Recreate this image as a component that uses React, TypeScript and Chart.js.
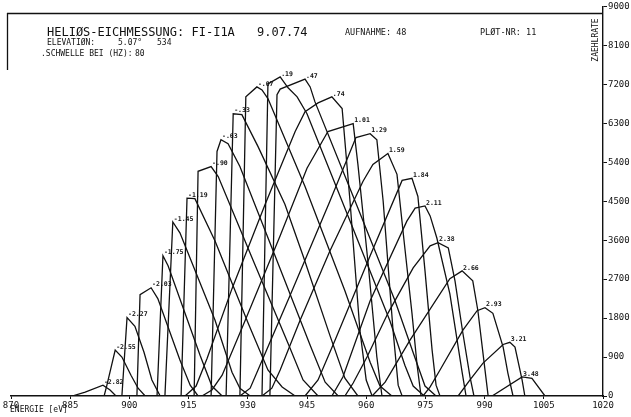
import React, { useEffect, useRef } from 'react';
import { Chart, registerables } from 'chart.js';

Chart.register(...registerables);

// Peak labels (elevation offsets) for each scan curve
const LABELS = ['-2.82', '-2.55', '-2.27', '-2.03', '-1.75', '-1.45', '-1.19', '-.90', '-.63', '-.33', '-.07', '.19', '.47', '.74', '1.01', '1.29', '1.59', '1.84', '2.11', '2.38', '2.66', '2.93', '3.21', '3.48'];

// Energies (eV) and counts of each curve
const E01 = [885.5, 888.8, 893.3, 895.1, 896.6];
const C01 = [0, 90, 250, 140, 0];
const E02 = [893.6, 894.3, 896.4, 898.1, 900.4, 902.2, 904.0];
const C02 = [0, 250, 1060, 900, 480, 180, 0];
const E03 = [898.1, 899.4, 901.4, 903.7, 905.7, 907.8];
const C03 = [0, 1810, 1610, 1010, 370, 0];
const E04 = [901.9, 902.7, 905.5, 907.2, 912.8, 915.4, 917.4];
const C04 = [0, 2340, 2500, 2250, 830, 250, 0];
const E05 = [907.0, 908.5, 909.8, 917.9, 920.9, 923.5];
const C05 = [0, 3240, 3010, 940, 230, 0];
const E06 = [909.0, 911.0, 912.8, 921.7, 926.0, 928.0, 930.6];
const C06 = [0, 4020, 3770, 1750, 550, 180, 0];
const E07 = [913.1, 914.6, 916.6, 921.7, 930.1, 935.1, 938.7, 942.0];
const C07 = [0, 4570, 4560, 3580, 1680, 600, 210, 0];
const E08 = [916.4, 917.4, 920.7, 922.5, 931.6, 940.4, 944.0, 947.8];
const C08 = [0, 5190, 5300, 5070, 3080, 1170, 370, 0];
const E09 = [920.7, 922.2, 923.2, 925.0, 928.0, 936.9, 945.8, 949.6, 952.9];
const C09 = [0, 5650, 5920, 5830, 5300, 3240, 1170, 320, 0];
const E10 = [924.5, 926.3, 928.5, 932.6, 939.4, 944.0, 950.8, 954.6, 957.9];
const C10 = [0, 6520, 6500, 5760, 4430, 3240, 1400, 410, 0];
const E11 = [928.0, 929.5, 932.3, 933.6, 935.1, 944.5, 954.6, 961.0, 963.5, 966.5];
const C11 = [0, 6910, 7140, 7070, 6870, 4840, 2430, 780, 230, 0];
const E12 = [933.6, 935.1, 938.2, 940.2, 942.5, 945.0, 955.9, 966.0, 969.8, 971.9, 974.7];
const C12 = [0, 7210, 7370, 7120, 6910, 6520, 4040, 1740, 710, 230, 0];
const E13 = [935.6, 937.4, 938.2, 944.5, 945.8, 947.0, 957.2, 967.3, 972.4, 974.9, 977.7];
const C13 = [0, 6960, 7090, 7320, 7140, 6800, 4500, 2200, 870, 230, 0];
const E14 = [914.1, 916.9, 919.7, 926.0, 934.4, 942.0, 944.5, 947.8, 951.3, 953.9, 955.9, 958.4, 960.0, 961.5];
const C14 = [0, 230, 870, 2480, 4430, 6110, 6570, 6770, 6910, 6640, 4500, 1520, 370, 0];
const E15 = [918.4, 920.9, 923.5, 929.3, 938.2, 945.0, 950.3, 956.7, 957.9, 960.5, 962.7, 964.0];
const C15 = [0, 140, 480, 1740, 3700, 5260, 6110, 6290, 5350, 3050, 900, 0];
const E16 = [928.0, 930.6, 933.1, 940.7, 950.8, 957.4, 961.0, 962.7, 964.3, 966.8, 968.1, 969.1];
const C16 = [0, 180, 710, 2320, 4500, 5970, 6060, 5920, 4500, 1520, 250, 0];
const E17 = [933.6, 936.1, 938.2, 943.2, 950.8, 959.2, 961.7, 965.5, 967.8, 969.6, 971.6, 972.9, 973.9];
const C17 = [0, 180, 600, 1740, 3350, 4960, 5350, 5600, 5120, 3580, 1910, 710, 0];
const E18 = [944.5, 947.8, 952.1, 961.0, 969.1, 971.6, 973.1, 974.9, 976.7, 977.7, 978.7];
const C18 = [0, 370, 1290, 3240, 4980, 5030, 4610, 2890, 1060, 250, 0];
const E19 = [951.3, 954.1, 961.0, 970.3, 972.4, 974.9, 976.2, 977.9, 981.2, 984.3, 985.3];
const C19 = [0, 440, 2200, 4040, 4340, 4390, 4160, 3650, 2360, 550, 0];
const E20 = [954.6, 956.7, 960.2, 965.5, 971.9, 976.2, 978.2, 980.8, 982.5, 984.5, 986.3, 987.3];
const C20 = [0, 300, 900, 1910, 2960, 3470, 3540, 3420, 2660, 1450, 440, 0];
const E21 = [961.5, 964.8, 971.1, 981.2, 984.3, 987.0, 988.3, 989.8, 990.9];
const C21 = [0, 320, 1290, 2710, 2890, 2660, 1970, 830, 0];
const E22 = [974.4, 976.2, 978.7, 984.5, 988.1, 990.1, 992.1, 994.7, 995.9, 997.2];
const C22 = [0, 210, 600, 1520, 1970, 2040, 1910, 1130, 530, 0];
const E23 = [983.3, 986.3, 989.6, 994.7, 996.4, 997.7, 999.5, 1000.2];
const C23 = [0, 370, 760, 1190, 1240, 1130, 370, 0];
const E24 = [991.9, 999.5, 1002.0, 1005.3];
const C24 = [0, 440, 410, 0];

const ENERGIES = [E01, E02, E03, E04, E05, E06, E07, E08, E09, E10, E11, E12, E13, E14, E15, E16, E17, E18, E19, E20, E21, E22, E23, E24];
const COUNTS = [C01, C02, C03, C04, C05, C06, C07, C08, C09, C10, C11, C12, C13, C14, C15, C16, C17, C18, C19, C20, C21, C22, C23, C24];

const X_TICKS = [870, 885, 900, 915, 930, 945, 960, 975, 990, 1005, 1020];
const Y_TICKS = [0, 900, 1800, 2700, 3600, 4500, 5400, 6300, 7200, 8100, 9000];

const MONO = '"DejaVu Sans Mono", "Liberation Mono", monospace';
const INK = '#111111';

export default function App() {
  const ref = useRef<HTMLCanvasElement>(null);

  useEffect(() => {
    if (!ref.current) return;

    const datasets = LABELS.map((lab, i) => ({
      label: lab,
      data: ENERGIES[i].map((e, j) => ({ x: e, y: COUNTS[i][j] })),
      borderColor: INK,
      borderWidth: 1.3,
      pointRadius: 0,
      tension: 0,
      fill: false,
    }));

    const peakLabels = {
      id: 'peakLabels',
      afterDatasetsDraw(chart: any) {
        const ctx = chart.ctx;
        ctx.save();
        ctx.fillStyle = INK;
        ctx.font = `bold 6.5px ${MONO}`;
        ctx.textAlign = 'left';
        ctx.textBaseline = 'middle';
        chart.data.datasets.forEach((ds: any, i: number) => {
          let best = 0;
          ds.data.forEach((p: any, j: number) => {
            if (p.y > ds.data[best].y) best = j;
          });
          const el = chart.getDatasetMeta(i).data[best];
          ctx.fillText(ds.label, el.x + 1, el.y - 3);
        });
        ctx.restore();
      },
    };

    const header = {
      id: 'header',
      afterDraw(chart: any) {
        const ctx = chart.ctx;
        const area = chart.chartArea;
        ctx.save();
        ctx.strokeStyle = INK;
        ctx.lineWidth = 1.3;
        ctx.beginPath();
        ctx.moveTo(7, 13.5);
        ctx.lineTo(area.right, 13.5);
        ctx.moveTo(7.5, 13);
        ctx.lineTo(7.5, 70);
        ctx.stroke();

        ctx.fillStyle = INK;
        ctx.textBaseline = 'alphabetic';
        ctx.textAlign = 'left';
        ctx.font = `12px ${MONO}`;
        ctx.fillText('HELIØS-EICHMESSUNG: FI-I1A', 47, 36);
        ctx.fillText('9.07.74', 257, 36);
        ctx.font = `8px ${MONO}`;
        ctx.fillText('ELEVATIØN:', 47, 45);
        ctx.fillText('5.07°', 118, 45);
        ctx.fillText('534', 157, 45);
        ctx.fillText('.SCHWELLE BEI (HZ):', 41, 56);
        ctx.fillText('80', 135, 56);
        ctx.font = `8.5px ${MONO}`;
        ctx.fillText('AUFNAHME: 48', 345, 35);
        ctx.fillText('PLØT-NR: 11', 480, 35);

        ctx.font = `8px ${MONO}`;
        ctx.fillText('ENERGIE [eV]', 10, 412);

        ctx.translate(598, 40);
        ctx.rotate(-Math.PI / 2);
        ctx.textAlign = 'center';
        ctx.fillText('ZAEHLRATE', 0, 0);
        ctx.restore();
      },
    };

    const chart = new Chart(ref.current, {
      type: 'line',
      data: { datasets },
      options: {
        responsive: false,
        animation: false,
        devicePixelRatio: 1,
        events: [],
        layout: { padding: { left: 11, top: 4, right: 0, bottom: 0 } },
        plugins: { legend: { display: false }, tooltip: { enabled: false } },
        scales: {
          x: {
            type: 'linear',
            min: 870,
            max: 1020,
            afterBuildTicks: (s: any) => {
              s.ticks = X_TICKS.map((v) => ({ value: v }));
            },
            afterFit: (s: any) => {
              s.height = 21;
            },
            ticks: {
              color: INK,
              font: { family: MONO, size: 9 },
              maxRotation: 0,
              autoSkip: false,
              padding: 1,
              callback: (v: any) => String(v),
            },
            grid: { drawOnChartArea: false, drawTicks: true, tickLength: 3, color: INK, lineWidth: 1 },
            border: { color: INK, width: 1.4 },
          },
          y: {
            type: 'linear',
            position: 'right',
            min: 0,
            max: 9000,
            afterBuildTicks: (s: any) => {
              s.ticks = Y_TICKS.map((v) => ({ value: v }));
            },
            afterFit: (s: any) => {
              s.width = 28;
            },
            ticks: {
              color: INK,
              font: { family: MONO, size: 9 },
              autoSkip: false,
              padding: 1,
              callback: (v: any) => String(v),
            },
            grid: { drawOnChartArea: false, drawTicks: true, tickLength: 4, color: INK, lineWidth: 1 },
            border: { color: INK, width: 1.4 },
          },
        },
      },
      plugins: [peakLabels, header],
    } as any);

    return () => chart.destroy();
  }, []);

  return (
    <div style={{ position: 'fixed', left: 0, top: 0, width: 631, height: 417, background: '#fff' }}>
      <canvas ref={ref} width={631} height={417} style={{ width: 631, height: 417, display: 'block' }} />
    </div>
  );
}
